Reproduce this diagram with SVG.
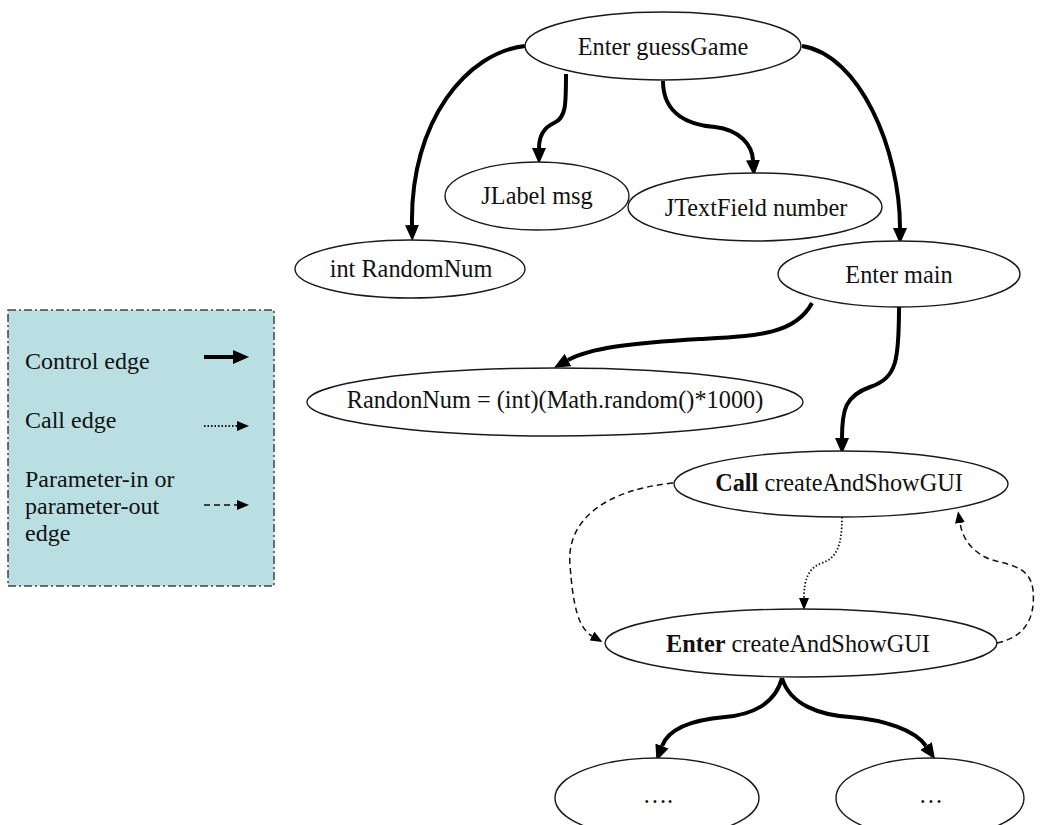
<svg xmlns="http://www.w3.org/2000/svg" width="1060" height="825" viewBox="0 0 1060 825">
  <style>
    .node ellipse { fill: #ffffff; stroke: #1a1a1a; stroke-width: 1.4; }
    .lbl { font-family: 'Liberation Serif', 'Times New Roman', serif; font-size: 24.3px; fill: #111; text-anchor: middle; }
    .legend-text { font-family: 'Liberation Serif', 'Times New Roman', serif; font-size: 24px; fill: #111; }
    .ctrl { fill: none; stroke: #000; stroke-width: 4; marker-end: url(#arrowBig); }
    .call { fill: none; stroke: #111; stroke-width: 1.8; stroke-dasharray: 1.5 2; marker-end: url(#arrowSmall); }
    .param { fill: none; stroke: #111; stroke-width: 1.5; stroke-dasharray: 6 4; marker-end: url(#arrowSmall); }
  </style>
  <defs>
    <marker id="arrowBig" markerUnits="userSpaceOnUse" markerWidth="16" markerHeight="14" viewBox="0 0 16 14" refX="0" refY="7" orient="auto">
      <path d="M0,0 L16,7 L0,14 z" fill="#000"/>
    </marker>
    <marker id="arrowSmall" markerUnits="userSpaceOnUse" markerWidth="12" markerHeight="10" viewBox="0 0 12 10" refX="0" refY="5" orient="auto">
      <path d="M0,0 L12,5 L0,10 z" fill="#000"/>
    </marker>
  </defs>

  <rect width="1060" height="825" fill="#ffffff"/>

  <!-- legend -->
  <g id="legend">
    <rect x="8" y="310" width="266" height="276" fill="#b9dfe3" stroke="#444" stroke-width="1.5" stroke-dasharray="8 3 2 3"/>
    <text class="legend-text" x="25" y="369">Control edge</text>
    <text class="legend-text" x="25" y="428">Call edge</text>
    <text class="legend-text" x="25" y="487">Parameter-in or</text>
    <text class="legend-text" x="25" y="514">parameter-out</text>
    <text class="legend-text" x="25" y="541">edge</text>
    <path d="M204,357 L233,357" class="ctrl"/>
    <path d="M204,426 L237,426" class="call"/>
    <path d="M204,505 L237,505" class="param"/>
  </g>

  <!-- connectors -->
  <g id="edges">
    <path class="ctrl" d="M525,46 C468,52 410,120 412,225"/>
    <path class="ctrl" d="M566,74 C566,105 566,118 554,123 C543,128 539,138 539,148"/>
    <path class="ctrl" d="M663,81 C663,115 690,125 715,127 C740,130 752,145 753,160"/>
    <path class="ctrl" d="M802,46 C860,55 900,150 900,228"/>
    <path class="ctrl" d="M812,303 C795,335 755,336 700,339 C630,343 590,348 568,360"/>
    <path class="ctrl" d="M899,307 C899,360 897,378 870,387 C845,396 842,410 842,438"/>
    <path class="call" d="M842,517 C842,545 837,558 822,563 C808,568 804,580 804,598"/>
    <path class="param" d="M673,483 C605,490 566,520 570,565 C573,605 578,628 592,636"/>
    <path class="param" d="M997,643 C1030,636 1035,612 1033,590 C1030,562 1000,565 985,557 C968,548 962,535 960,523"/>
    <path class="ctrl" d="M782,678 C775,705 750,715 725,717 C690,720 668,730 662,746"/>
    <path class="ctrl" d="M782,678 C790,705 820,715 850,717 C885,720 915,730 926,746"/>
  </g>

  <!-- nodes -->
  <g id="enter-guessGame" class="node">
    <ellipse cx="663" cy="46" rx="138" ry="34"/>
    <text class="lbl" x="663" y="55">Enter guessGame</text>
  </g>
  <g id="jlabel-msg" class="node">
    <ellipse cx="537" cy="196" rx="92" ry="34"/>
    <text class="lbl" x="537" y="204">JLabel msg</text>
  </g>
  <g id="int-randomnum" class="node">
    <ellipse cx="410" cy="269" rx="115" ry="29"/>
    <text class="lbl" x="411" y="277">int RandomNum</text>
  </g>
  <g id="jtextfield-number" class="node">
    <ellipse cx="755" cy="207" rx="127" ry="34"/>
    <text class="lbl" x="756" y="216">JTextField number</text>
  </g>
  <g id="enter-main" class="node">
    <ellipse cx="899" cy="274" rx="121" ry="33"/>
    <text class="lbl" x="899" y="283">Enter main</text>
  </g>
  <g id="randonnum-assign" class="node">
    <ellipse cx="555" cy="402" rx="248" ry="34"/>
    <text class="lbl" x="555" y="408">RandonNum = (int)(Math.random()*1000)</text>
  </g>
  <g id="call-createAndShowGUI" class="node">
    <ellipse cx="841" cy="484" rx="167" ry="33"/>
    <text class="lbl" x="839" y="491"><tspan font-weight="bold">Call</tspan> createAndShowGUI</text>
  </g>
  <g id="enter-createAndShowGUI" class="node">
    <ellipse cx="801" cy="643" rx="196" ry="34"/>
    <text class="lbl" x="798" y="652"><tspan font-weight="bold">Enter</tspan> createAndShowGUI</text>
  </g>
  <g id="child-left" class="node">
    <ellipse cx="657" cy="798" rx="102" ry="40"/>
    <text class="lbl" x="658" y="803">….</text>
  </g>
  <g id="child-right" class="node">
    <ellipse cx="930" cy="798" rx="94" ry="40"/>
    <text class="lbl" x="931" y="803">…</text>
  </g>
</svg>
